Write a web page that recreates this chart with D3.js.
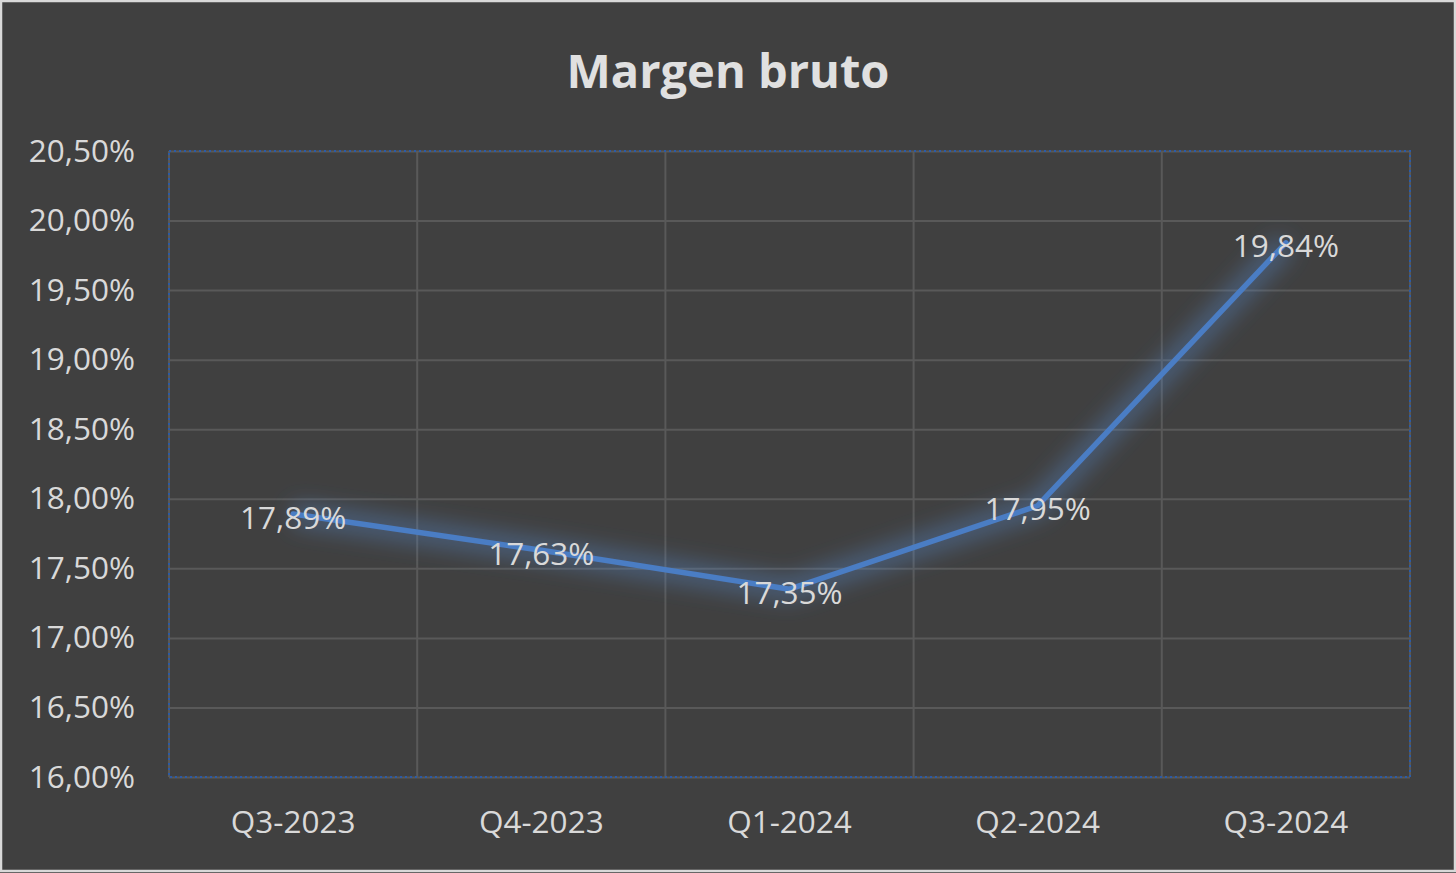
<!DOCTYPE html>
<html><head><meta charset="utf-8">
<script src="https://cdn.jsdelivr.net/npm/d3@7"></script>
<style>html,body{margin:0;padding:0;background:#404040;overflow:hidden}</style>
</head><body>
<svg id="c" width="1456" height="873"></svg>
<script>
const categories = ["Q3-2023","Q4-2023","Q1-2024","Q2-2024","Q3-2024"];
const values = [17.89, 17.63, 17.35, 17.95, 19.84];
const yTicks = [16,16.5,17,17.5,18,18.5,19,19.5,20,20.5];
const title = "Margen bruto";

const W=1456,H=873;
const m={left:169,right:46,top:151,bottom:96};
const svg=d3.select("#c");
const fmt=v=>v.toFixed(2).replace(".",",")+"%";
const font="'Open Sans', 'Noto Sans', sans-serif";
const fs=31.5;

svg.append("rect").attr("x",1).attr("y",1).attr("width",W-2).attr("height",H-3)
  .attr("fill","#404040").attr("stroke","#d9d9d9").attr("stroke-width",2.5);

const defs=svg.append("defs");
const f=defs.append("filter").attr("id","glow").attr("x","-20%").attr("y","-30%").attr("width","140%").attr("height","160%");
f.append("feGaussianBlur").attr("in","SourceGraphic").attr("stdDeviation",11).attr("result","b");
f.append("feMerge").call(s=>{s.append("feMergeNode").attr("in","b");});

const x=d3.scaleBand().domain(categories).range([m.left,W-m.right]);
const y=d3.scaleLinear().domain([16,20.5]).range([H-m.bottom,m.top]);

svg.append("text").attr("x",728).attr("y",70).attr("text-anchor","middle").attr("dominant-baseline","central")
  .attr("font-family",font).attr("font-weight",700).attr("font-size",47).attr("fill","#e0e0e0").text(title);

const g=svg.append("g");
g.append("g").attr("transform",`translate(${m.left},0)`)
  .call(d3.axisLeft(y).tickValues(yTicks).tickSize(-(W-m.left-m.right)).tickFormat(fmt).tickPadding(34))
  .call(a=>a.select(".domain").remove())
  .call(a=>a.selectAll(".tick line").attr("stroke","#595959").attr("stroke-width",2))
  .call(a=>a.selectAll(".tick text").attr("fill","#d9d9d9").attr("font-family",font).attr("font-size",fs));
const bounds=categories.map(c=>x(c)).concat([x(categories[categories.length-1])+x.bandwidth()]);
g.append("g").selectAll("line").data(bounds).join("line")
  .attr("x1",d=>d).attr("x2",d=>d).attr("y1",m.top).attr("y2",H-m.bottom)
  .attr("stroke","#595959").attr("stroke-width",2);
g.append("g").attr("transform",`translate(0,${H-m.bottom})`)
  .call(d3.axisBottom(x).tickSize(0).tickPadding(34))
  .call(a=>a.select(".domain").remove())
  .call(a=>a.selectAll(".tick text").attr("fill","#d9d9d9").attr("font-family",font).attr("font-size",fs));
svg.append("rect").attr("x",m.left).attr("y",m.top).attr("width",W-m.left-m.right).attr("height",H-m.top-m.bottom)
  .attr("fill","none").attr("stroke","#2a5ba8").attr("stroke-width",2).attr("stroke-dasharray","2,3");

const line=d3.line().x((d,i)=>x(categories[i])+x.bandwidth()/2).y(d=>y(d));
svg.append("path").datum(values).attr("d",line).attr("fill","none").attr("stroke","#5b8fd6")
  .attr("stroke-width",22).attr("stroke-opacity",0.4).attr("filter","url(#glow)").attr("stroke-linejoin","round");
svg.append("path").datum(values).attr("d",line).attr("fill","none").attr("stroke","#4a7dc4")
  .attr("stroke-width",5.5).attr("stroke-linejoin","round").attr("stroke-linecap","round");

svg.append("g").selectAll("text").data(values).join("text")
  .attr("x",(d,i)=>x(categories[i])+x.bandwidth()/2).attr("y",d=>y(d)+2)
  .attr("text-anchor","middle").attr("dominant-baseline","central")
  .attr("font-family",font).attr("font-size",fs).attr("fill","#d9d9d9").text(fmt);
</script>
</body></html>
